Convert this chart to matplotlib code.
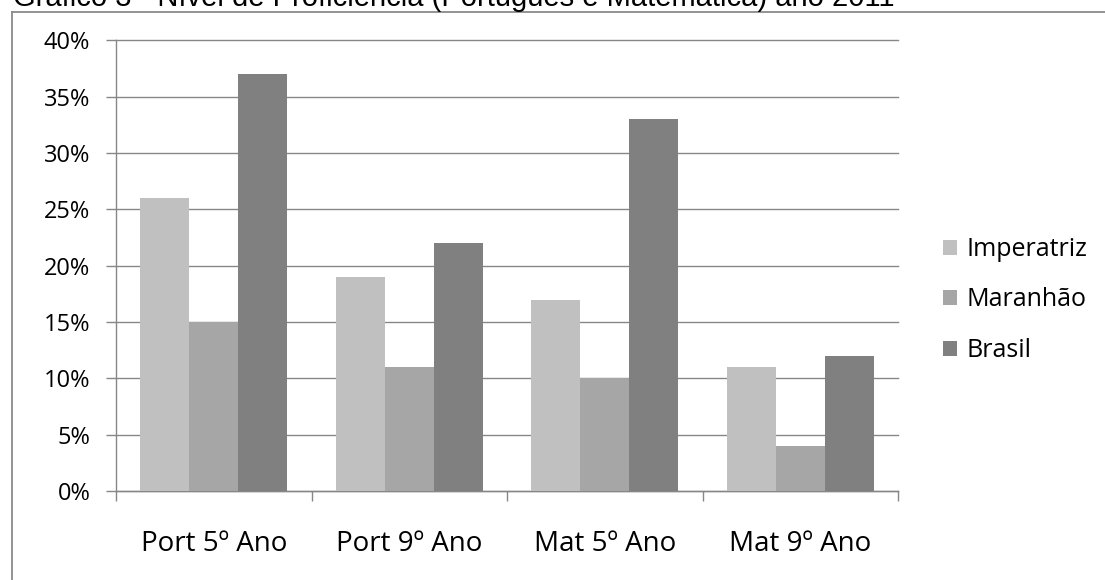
import matplotlib.pyplot as plt
import numpy as np
from matplotlib.lines import Line2D

categorias = ['Port 5º Ano', 'Port 9º Ano', 'Mat 5º Ano', 'Mat 9º Ano']
imperatriz = [26, 19, 17, 11]
maranhao = [15, 11, 10, 4]
brasil = [37, 22, 33, 12]
series = ['Imperatriz', 'Maranhão', 'Brasil']
cores = ['#c0c0c0', '#a6a6a6', '#808080']
titulo = 'Gráfico 3 - Nível de Proficiência (Português e Matemática) ano 2011'

plt.rcParams['font.family'] = ['Open Sans', 'DejaVu Sans']

fig = plt.figure(figsize=(11.05, 5.8), dpi=100)
ax = fig.add_axes([116 / 1105, 1 - 491 / 580, 782 / 1105, 450.5 / 580])

x = np.arange(len(categorias))
largura = 0.25
barras = []
for i, (vals, cor) in enumerate(zip([imperatriz, maranhao, brasil], cores)):
    b = ax.bar(x + (i - 1) * largura, vals, largura, color=cor, zorder=3, label=series[i])
    barras.append(b)

ax.set_xlim(-0.5, len(categorias) - 0.5)
ax.set_ylim(0, 40)
ax.set_yticks(np.arange(0, 41, 5))
ax.set_yticklabels(['{}%'.format(v) for v in range(0, 41, 5)])
ax.yaxis.grid(True, color='#878787', linewidth=1.0, zorder=0)
for gl in ax.get_ygridlines():
    gl.set_clip_on(False)

# category ticks at the boundaries, labels centred
ax.set_xticks(np.arange(-0.5, len(categorias), 1.0))
ax.set_xticklabels([])
ax.set_xticks(x, minor=True)
ax.set_xticklabels(categorias, minor=True, fontsize=20)
ax.tick_params(axis='x', which='major', direction='out', length=7.5, width=1.0, color='#878787')
ax.tick_params(axis='x', which='minor', length=0, pad=28)
ax.tick_params(axis='y', direction='out', length=7.5, width=1.0, color='#878787', labelsize=17, pad=11)

for s in ['top', 'right']:
    ax.spines[s].set_visible(False)
for s in ['left', 'bottom']:
    ax.spines[s].set_color('#878787')
    ax.spines[s].set_linewidth(1.0)

leg = fig.legend(handles=barras, labels=series, loc='center left',
                 bbox_to_anchor=(0.853, 1 - 300 / 580), frameon=False,
                 fontsize=18, handlelength=0.56, handleheight=0.56,
                 handletextpad=0.4, labelspacing=1.02, borderpad=0, borderaxespad=0)

# outer chart border (cut at right/bottom in the original)
fig.add_artist(Line2D([12 / 1105, 12 / 1105], [0, 1 - 11.5 / 580], color='#8a8a8a', lw=1.3))
fig.add_artist(Line2D([12 / 1105, 1], [1 - 11.5 / 580, 1 - 11.5 / 580], color='#8a8a8a', lw=1.3))

fig.text(13 / 1105, 1 - 6.5 / 580, titulo, fontsize=21, family='Liberation Sans',
         ha='left', va='baseline')

fig.savefig('out.png', dpi=100)
